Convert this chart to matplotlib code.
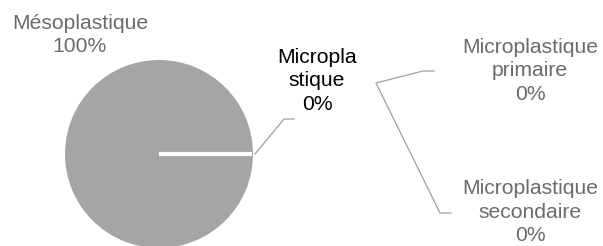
import numpy as np
import matplotlib.pyplot as plt

plt.rcParams['font.family'] = ['Liberation Sans', 'DejaVu Sans']

# Primary pie
main_labels = ['Mésoplastique', 'Micropla\nstique']
main_values = [100, 0]
# Secondary pie (split of microplastique)
sub_labels = ['Microplastique\nprimaire', 'Microplastique\nsecondaire']
sub_values = [0, 0]

W, H = 603, 246
fig = plt.figure(figsize=(W / 100, H / 100), dpi=100)
ax = fig.add_axes([0, 0, 1, 1])

cx, cy, r = 159, 154, 94
wedges, _ = ax.pie(main_values, colors=['#a5a5a5', '#a5a5a5'], startangle=0,
                   counterclock=False, center=(cx, cy), radius=r,
                   wedgeprops=dict(linewidth=0))

# white edge of the zero slice
th = np.deg2rad(wedges[1].theta1)
ex, ey = cx + r * np.cos(th), cy + r * np.sin(th)
ax.plot([cx, ex - 1], [cy, ey], color='white', lw=3, solid_capstyle='butt')

ax.set_xlim(0, W)
ax.set_ylim(H, 0)
ax.set_aspect('equal')
ax.axis('off')

pct = lambda v, tot: f'{(v / tot * 100 if tot else 0):.0f}%'
total = sum(main_values)

fs = 15.2
ls = 1.3
grey = '#6b6b6b'
ax.text(80, 14, f'{main_labels[0]}\n{pct(main_values[0], total)}', ha='center', va='top',
        fontsize=fs, color=grey, linespacing=ls)
ax.text(317, 48, f'{main_labels[1]}\n{pct(main_values[1], total)}', ha='center', va='top',
        fontsize=fs, color='black', linespacing=ls)
ax.text(530, 38, f'{sub_labels[0]}\n{pct(sub_values[0], total)}', ha='center', va='top',
        fontsize=fs, color=grey, linespacing=ls)
ax.text(530, 179, f'{sub_labels[1]}\n{pct(sub_values[1], total)}', ha='center', va='top',
        fontsize=fs, color=grey, linespacing=ls)

lc = '#a0a0a0'
lw = 0.9
# leader of the primary zero slice
ax.plot([ex + 2, 284, 294], [ey, 119, 119], color=lc, lw=lw)
# leaders of the secondary slices
ax.plot([434, 423, 376, 440, 451], [71, 71, 83, 213, 213], color=lc, lw=lw)

fig.savefig('out.png', dpi=100)
